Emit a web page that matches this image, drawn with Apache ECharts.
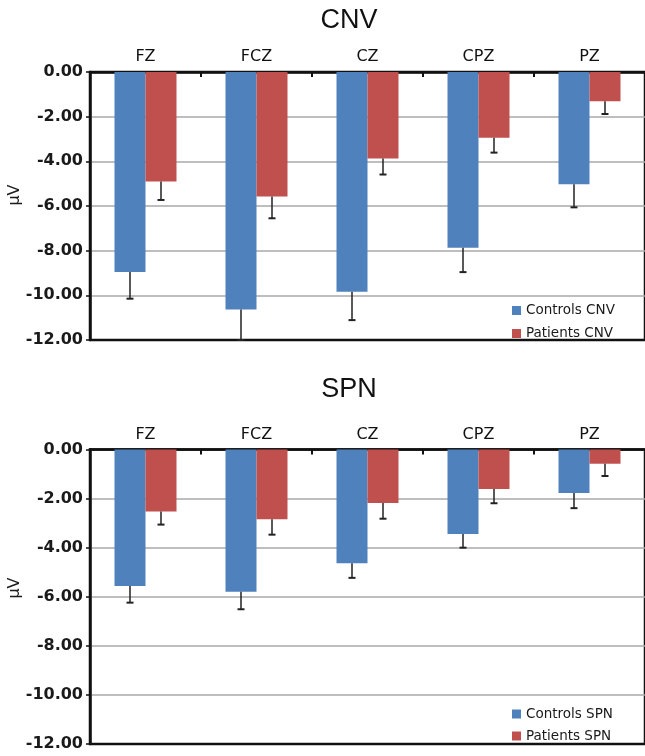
<!DOCTYPE html>
<html>
<head>
<meta charset="utf-8">
<script src="https://cdn.jsdelivr.net/npm/echarts@6/dist/echarts.min.js"></script>
<style>
html,body{margin:0;padding:0;background:#fff;}
#chart{width:645px;height:756px;}
</style>
</head>
<body>
<div id="chart"></div>
<script>
const categories = ['FZ', 'FCZ', 'CZ', 'CPZ', 'PZ'];
const cnvControls = [-8.96, -10.63, -9.84, -7.87, -5.03];
const cnvControlsErr = [1.19, 1.37, 1.27, 1.09, 1.03];
const cnvPatients = [-4.90, -5.58, -3.87, -2.94, -1.31];
const cnvPatientsErr = [0.83, 0.97, 0.72, 0.67, 0.57];
const spnControls = [-5.56, -5.80, -4.63, -3.44, -1.77];
const spnControlsErr = [0.68, 0.71, 0.60, 0.56, 0.62];
const spnPatients = [-2.53, -2.84, -2.18, -1.61, -0.58];
const spnPatientsErr = [0.53, 0.63, 0.64, 0.58, 0.50];
const yMin = -12, yMax = 0, yStep = 2;
const titles = ['CNV', 'SPN'];
const yName = 'μV';

const BLUE = '#4F81BD', RED = '#C0504D';
const BAR_W = 31;

function errData(vals, errs) {
  return vals.map((v, i) => [i, v, v - errs[i]]);
}
function errRender(offset) {
  return function (params, api) {
    const c = api.value(0);
    const a = api.coord([c, api.value(1)]);
    const b = api.coord([c, api.value(2)]);
    const x = a[0] + offset;
    return {
      type: 'group',
      children: [
        { type: 'line', shape: { x1: x, y1: a[1], x2: x, y2: b[1] }, style: { stroke: '#222', lineWidth: 1.5 } },
        { type: 'line', shape: { x1: x - 3.5, y1: b[1], x2: x + 3.5, y2: b[1] }, style: { stroke: '#222', lineWidth: 2 } }
      ]
    };
  };
}

const grids = [
  { left: 90, top: 72, width: 558, height: 268 },
  { left: 90, top: 449.5, width: 558, height: 294.5 }
];

const xAxes = grids.map((g, i) => ({
  type: 'category', gridIndex: i, position: 'top', data: categories,
  axisLine: { lineStyle: { color: '#111', width: 2.5 } },
  axisTick: { show: true, inside: true, length: 5, lineStyle: { color: '#111', width: 2 } },
  axisLabel: { margin: 7, color: '#111', fontSize: 16, fontFamily: 'DejaVu Sans' },
  splitLine: { show: false }
}));

const yAxes = grids.map((g, i) => ({
  type: 'value', gridIndex: i, min: yMin, max: yMax, interval: yStep,
  axisLine: { show: true, lineStyle: { color: '#111', width: 2.5 } },
  axisTick: { show: true, length: 4, lineStyle: { color: '#111', width: 1.5 } },
  axisLabel: { margin: 7, color: '#1a1a1a', fontSize: 16, fontWeight: 'bold', fontFamily: 'DejaVu Sans', formatter: v => v.toFixed(2) },
  splitLine: { show: true, showMinLine: false, showMaxLine: false, lineStyle: { color: '#a8a8a8', width: 1.5 } }
}));

const sets = [
  { c: cnvControls, ce: cnvControlsErr, p: cnvPatients, pe: cnvPatientsErr, cn: 'Controls CNV', pn: 'Patients CNV' },
  { c: spnControls, ce: spnControlsErr, p: spnPatients, pe: spnPatientsErr, cn: 'Controls SPN', pn: 'Patients SPN' }
];

const series = [];
sets.forEach((s, i) => {
  series.push({ name: s.cn, type: 'bar', xAxisIndex: i, yAxisIndex: i, data: s.c, barWidth: BAR_W, barGap: '0%', itemStyle: { color: BLUE }, z: 2 });
  series.push({ name: s.pn, type: 'bar', xAxisIndex: i, yAxisIndex: i, data: s.p, barWidth: BAR_W, barGap: '0%', itemStyle: { color: RED }, z: 2 });
  series.push({ type: 'custom', xAxisIndex: i, yAxisIndex: i, data: errData(s.c, s.ce), renderItem: errRender(-BAR_W / 2), z: 3, silent: true });
  series.push({ type: 'custom', xAxisIndex: i, yAxisIndex: i, data: errData(s.p, s.pe), renderItem: errRender(BAR_W / 2), z: 3, silent: true });
});

const legendTops = [297.5, 701];
const legends = sets.map((s, i) => ({
  data: [s.cn, s.pn], orient: 'vertical', left: 507, top: legendTops[i],
  icon: 'rect', itemWidth: 9, itemHeight: 9, itemGap: i === 0 ? 7 : 6,
  textStyle: { fontFamily: 'DejaVu Sans', fontSize: 13.5, color: '#1a1a1a', lineHeight: 16 },
  selectedMode: false
}));

const titleY = [20.5, 389.5];
const nameY = [195, 588];
const graphics = [];
titles.forEach((t, i) => {
  graphics.push({ type: 'text', x: 349, y: titleY[i], style: { text: t, fontFamily: 'Liberation Sans', fontSize: 27, fill: '#111', textAlign: 'center', textVerticalAlign: 'middle' } });
  graphics.push({ type: 'text', x: 15, y: nameY[i], rotation: Math.PI / 2, style: { text: yName, fontFamily: 'DejaVu Sans', fontSize: 16, fill: '#1a1a1a', textAlign: 'center', textVerticalAlign: 'middle' } });
});

const chart = echarts.init(document.getElementById('chart'), null, { renderer: 'canvas' });
chart.setOption({
  backgroundColor: '#fff',
  animation: false,
  grid: grids.map(g => Object.assign({ show: true, borderColor: '#111', borderWidth: 2.5, backgroundColor: 'transparent' }, g)),
  xAxis: xAxes,
  yAxis: yAxes,
  legend: legends,
  series: series,
  graphic: graphics
});
</script>
</body>
</html>
